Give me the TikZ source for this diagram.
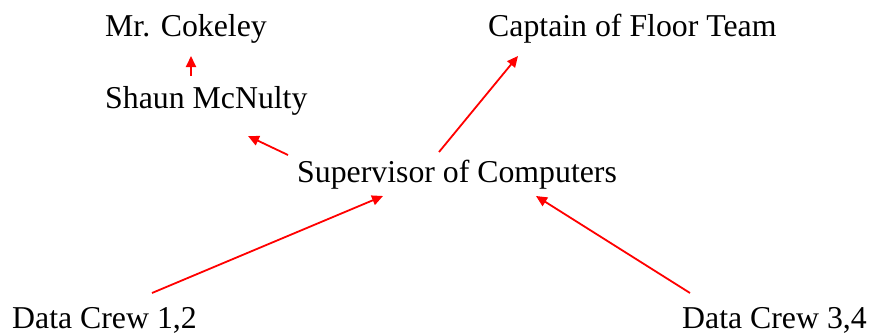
\documentclass[tikz,border=0pt]{standalone}
\usepackage{fontspec}
\setmainfont{Liberation Serif}
\usetikzlibrary{arrows.meta}
\begin{document}
\begin{tikzpicture}[x=1pt,y=-1pt,
  lbl/.style={anchor=base west,inner sep=0pt,font=\fontsize{31.8}{36}\selectfont},
  arr/.style={draw=red,line width=1.8pt,-{Triangle[length=11pt,width=10pt]}}]
\useasboundingbox (0,0) rectangle (872,335);
\node[lbl] (mr) at (105,36) {Mr. Cokeley};
\node[lbl] (shaun) at (105,108) {Shaun McNulty};
\node[lbl] (cap) at (488,36) {Captain of Floor Team};
\node[lbl] (sup) at (297,182) {Supervisor of Computers};
\node[lbl] (d12) at (12,328) {Data Crew 1,2};
\node[lbl] (d34) at (682,328) {Data Crew 3,4};
\coordinate (s1) at (191,76);  \coordinate (t1) at (191,56);
\coordinate (s2) at (288,155); \coordinate (t2) at (248,136);
\coordinate (s3) at (439,152); \coordinate (t3) at (518,56);
\coordinate (s4) at (152,293); \coordinate (t4) at (383,196);
\coordinate (s5) at (690,293); \coordinate (t5) at (536,196);
\draw[arr] (s1) -- (t1);
\draw[arr] (s2) -- (t2);
\draw[arr] (s3) -- (t3);
\draw[arr] (s4) -- (t4);
\draw[arr] (s5) -- (t5);
\end{tikzpicture}
\end{document}
